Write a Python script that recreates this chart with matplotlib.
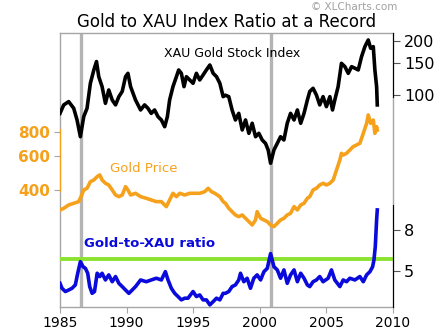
import matplotlib
matplotlib.use("Agg")
import matplotlib.pyplot as plt
from matplotlib.ticker import FixedLocator, NullLocator

plt.rcParams['font.family'] = ['DejaVu Sans']

# XAU Gold Stock Index
xau_years = [1985.00, 1985.28, 1985.65, 1986.03, 1986.28, 1986.53, 1986.78, 1987.03,
             1987.28, 1987.54, 1987.74, 1987.91, 1988.16, 1988.41, 1988.66, 1988.92,
             1989.17, 1989.42, 1989.67, 1989.92, 1990.10, 1990.30, 1990.67, 1991.05,
             1991.35, 1991.60, 1991.85, 1992.10, 1992.36, 1992.61, 1992.86, 1993.06,
             1993.23, 1993.48, 1993.74, 1993.91, 1994.11, 1994.31, 1994.49, 1994.74,
             1994.99, 1995.24, 1995.49, 1995.74, 1995.99, 1996.25, 1996.50, 1996.75,
             1997.00, 1997.25, 1997.42, 1997.67, 1997.92, 1998.17, 1998.42, 1998.68,
             1998.93, 1999.18, 1999.43, 1999.68, 1999.93, 2000.18, 2000.43, 2000.63,
             2000.81, 2001.06, 2001.31, 2001.56, 2001.81, 2002.06, 2002.31, 2002.57,
             2002.82, 2003.07, 2003.32, 2003.57, 2003.75, 2004.00, 2004.25, 2004.50,
             2004.75, 2005.00, 2005.26, 2005.46, 2005.63, 2005.88, 2006.13, 2006.39,
             2006.64, 2006.89, 2007.14, 2007.39, 2007.64, 2007.89, 2008.14, 2008.32,
             2008.52, 2008.64, 2008.77, 2008.82]
xau = [79.4, 88.4, 92.2, 84.7, 73.0, 59.0, 76.1, 84.7,
       116.4, 137.9, 153.5, 126.6, 111.5, 90.2, 106.9, 94.1,
       88.4, 98.2, 104.9, 126.6, 132.1, 111.5, 94.1, 82.9,
       88.4, 84.7, 79.4, 82.9, 76.1, 73.0, 67.0, 76.1,
       94.1, 111.5, 126.6, 137.9, 132.1, 111.5, 126.6, 121.4,
       116.4, 132.1, 121.4, 129.3, 137.9, 146.9, 132.1, 126.6,
       116.4, 98.2, 100.0, 98.2, 82.9, 73.0, 79.4, 64.3,
       73.0, 61.6, 70.0, 59.0, 61.6, 56.6, 54.2, 49.8,
       42.1, 49.8, 54.2, 59.0, 56.6, 70.0, 79.4, 73.0,
       82.9, 70.0, 79.4, 94.1, 104.9, 109.2, 100.3, 88.4,
       98.2, 86.5, 98.2, 82.9, 94.1, 111.5, 150.0, 143.8,
       132.1, 143.8, 141.0, 137.9, 163.4, 185.5, 201.9, 181.8,
       185.5, 137.9, 111.5, 88.4]

# Gold price, $/oz
gold_years = [1985.00, 1985.28, 1985.65, 1986.03, 1986.40, 1986.58, 1986.78, 1987.03,
              1987.28, 1987.54, 1987.79, 1987.99, 1988.16, 1988.41, 1988.66, 1988.92,
              1989.17, 1989.42, 1989.67, 1989.92, 1990.10, 1990.30, 1990.67, 1991.05,
              1991.48, 1991.85, 1992.23, 1992.61, 1992.98, 1993.23, 1993.48, 1993.74,
              1993.99, 1994.36, 1994.74, 1995.12, 1995.49, 1995.87, 1996.12, 1996.37,
              1996.62, 1997.00, 1997.25, 1997.42, 1997.67, 1997.92, 1998.17, 1998.42,
              1998.68, 1998.93, 1999.18, 1999.43, 1999.68, 1999.80, 2000.06, 2000.31,
              2000.56, 2000.81, 2001.06, 2001.31, 2001.56, 2001.81, 2002.06, 2002.31,
              2002.57, 2002.82, 2003.07, 2003.32, 2003.57, 2003.75, 2004.00, 2004.25,
              2004.50, 2004.75, 2005.00, 2005.26, 2005.51, 2005.76, 2006.01, 2006.13,
              2006.26, 2006.51, 2006.76, 2007.01, 2007.26, 2007.51, 2007.77, 2008.02,
              2008.14, 2008.32, 2008.52, 2008.64, 2008.77, 2008.82]
gold = [315.2, 321.5, 334.6, 341.4, 348.3, 369.8, 400.6, 408.7,
        442.6, 451.6, 470.0, 479.6, 451.6, 434.0, 425.3, 400.6,
        377.2, 369.8, 377.2, 416.9, 400.6, 377.2, 384.9, 369.8,
        362.5, 355.3, 348.3, 348.3, 328.0, 355.3, 384.9, 369.8,
        384.9, 377.2, 384.9, 384.9, 384.9, 392.6, 408.7, 392.6,
        384.9, 369.8, 348.3, 341.4, 321.5, 308.9, 296.8, 290.9,
        296.8, 285.2, 274.1, 263.3, 279.6, 308.9, 285.2, 279.6,
        274.1, 263.3, 258.1, 268.6, 279.6, 285.2, 296.8, 302.8,
        328.0, 315.2, 334.6, 341.4, 362.5, 369.8, 400.6, 408.7,
        425.3, 434.0, 425.3, 434.0, 451.6, 509.0, 574.0, 621.8,
        609.6, 621.8, 647.0, 673.6, 687.0, 701.0, 790.0, 891.0,
        985.0, 891.0, 927.0, 790.0, 856.0, 822.0]

# Gold-to-XAU ratio
ratio_years = [1985.00, 1985.15, 1985.40, 1985.65, 1985.90, 1986.15, 1986.33, 1986.53,
               1986.73, 1986.91, 1987.08, 1987.23, 1987.41, 1987.59, 1987.79, 1987.99,
               1988.16, 1988.41, 1988.66, 1988.92, 1989.17, 1989.42, 1989.67, 1989.92,
               1990.17, 1990.42, 1990.67, 1991.05, 1991.48, 1991.85, 1992.23, 1992.61,
               1992.91, 1993.11, 1993.36, 1993.61, 1993.86, 1994.11, 1994.36, 1994.61,
               1994.99, 1995.24, 1995.49, 1995.74, 1995.99, 1996.25, 1996.50, 1996.75,
               1997.00, 1997.25, 1997.42, 1997.67, 1997.92, 1998.17, 1998.42, 1998.55,
               1998.80, 1999.05, 1999.30, 1999.55, 1999.80, 2000.06, 2000.31, 2000.56,
               2000.81, 2001.06, 2001.31, 2001.56, 2001.81, 2002.06, 2002.31, 2002.57,
               2002.82, 2003.07, 2003.32, 2003.57, 2003.75, 2004.00, 2004.25, 2004.50,
               2004.75, 2005.13, 2005.38, 2005.63, 2006.01, 2006.26, 2006.51, 2006.76,
               2007.14, 2007.51, 2007.77, 2008.02, 2008.27, 2008.47, 2008.57, 2008.67,
               2008.72, 2008.77, 2008.82]
ratio = [4.34, 4.10, 3.95, 4.02, 4.10, 4.26, 4.87, 5.56,
         5.25, 5.15, 4.87, 4.18, 3.87, 3.95, 4.87, 4.69,
         4.87, 4.51, 4.78, 4.42, 4.69, 4.34, 4.18, 4.02,
         3.87, 4.02, 4.18, 4.51, 4.42, 4.51, 4.60, 4.51,
         4.96, 4.51, 4.10, 3.87, 3.73, 3.59, 3.66, 3.66,
         3.95, 3.73, 3.80, 3.59, 3.59, 3.39, 3.52, 3.66,
         3.59, 3.87, 3.87, 3.95, 4.18, 4.26, 4.51, 4.87,
         4.42, 4.60, 4.10, 4.60, 4.78, 4.51, 4.96, 5.15,
         6.10, 5.25, 5.06, 4.60, 5.06, 4.34, 4.78, 5.06,
         4.42, 4.87, 4.60, 4.26, 4.18, 4.42, 4.51, 4.69,
         4.42, 4.60, 5.06, 4.51, 4.18, 4.51, 4.42, 4.60,
         4.51, 4.69, 4.42, 4.78, 4.96, 5.25, 5.67, 6.61,
         7.70, 8.97, 10.06]

record_ratio = 5.75
turning_points = [1986.55, 2000.82]

xau_ticks = [100, 150, 200]
gold_ticks = [400, 600, 800]
ratio_ticks = [5, 8]
year_ticks = [1985, 1990, 1995, 2000, 2005, 2010]

ORANGE = '#F5A11C'
BLUE = '#0A0ADC'
GREEN = '#8BE32F'
FRAME = '#A6A6A6'

fig = plt.figure(figsize=(4.47, 3.30), dpi=100)
ax = fig.add_axes([60 / 447, 23.3 / 330, 333 / 447, 273.4 / 330])
ax.set_xlim(1985, 2010)
ax.set_ylim(0, 1)
ax.set_yticks([])
ax.set_xticks(year_ticks)
ax.tick_params(axis='x', length=4, width=0.8, color=FRAME, pad=3, labelsize=10)
for s in ax.spines.values():
    s.set_color(FRAME)
    s.set_linewidth(1.0)
for yr in turning_points:
    ax.axvline(yr, color='#B4B4B4', lw=2.4, zorder=1)

# gold price, left axis
ax_g = ax.twinx()
ax_g.set_yscale('log')
ax_g.set_ylim(98.8, 2622)
ax_g.yaxis.tick_left()
ax_g.yaxis.set_major_locator(FixedLocator(gold_ticks))
ax_g.yaxis.set_minor_locator(NullLocator())
ax_g.set_yticklabels([str(t) for t in gold_ticks])
ax_g.tick_params(axis='y', length=4, width=0.8, color=FRAME, pad=3, labelsize=11,
                 labelcolor=ORANGE)
for lab in ax_g.get_yticklabels():
    lab.set_fontweight('bold')
for k, s in ax_g.spines.items():
    s.set_visible(k == 'left')
ax_g.spines['left'].set_color(ORANGE)
ax_g.spines['left'].set_bounds(395, 830)
ax_g.plot(gold_years, gold, color=ORANGE, lw=2.6, zorder=3)

# XAU index, right axis (top)
ax_x = ax.twinx()
ax_x.set_yscale('log')
ax_x.set_ylim(6.79, 219.8)
ax_x.yaxis.set_major_locator(FixedLocator(xau_ticks))
ax_x.yaxis.set_minor_locator(NullLocator())
ax_x.set_yticklabels([str(t) for t in xau_ticks])
ax_x.tick_params(axis='y', length=5, width=0.8, color='#555555', pad=3, labelsize=11.5)
for k, s in ax_x.spines.items():
    s.set_visible(k == 'right')
ax_x.spines['right'].set_color('black')
ax_x.spines['right'].set_bounds(98, 219.8)
ax_x.plot(xau_years, xau, color='black', lw=2.6, zorder=3)

# ratio, right axis (bottom)
ax_r = ax.twinx()
ax_r.set_yscale('log')
ax_r.set_ylim(3.32, 76.1)
ax_r.yaxis.set_major_locator(FixedLocator(ratio_ticks))
ax_r.yaxis.set_minor_locator(NullLocator())
ax_r.set_yticklabels([str(t) for t in ratio_ticks])
ax_r.tick_params(axis='y', length=5, width=0.8, color='#555555', pad=3, labelsize=11.5)
for k, s in ax_r.spines.items():
    s.set_visible(k == 'right')
ax_r.spines['right'].set_color('black')
ax_r.spines['right'].set_bounds(3.32, 10.6)
ax_r.axhline(record_ratio, color=GREEN, lw=2.8, zorder=2)
ax_r.plot(ratio_years, ratio, color=BLUE, lw=2.6, zorder=3)

ax_x.text(1997.9, 169, 'XAU Gold Stock Index', ha='center', va='center', fontsize=9)
ax_g.text(1991.3, 521, 'Gold Price', ha='center', va='center', fontsize=9.5,
          color=ORANGE)
ax_r.text(1991.7, 6.85, 'Gold-to-XAU ratio', ha='center', va='center', fontsize=9.5,
          color=BLUE, fontweight='bold')

fig.text(227 / 447, 1 - 22 / 330, 'Gold to XAU Index Ratio at a Record', ha='center',
         va='center', fontsize=12)
fig.text(354 / 447, 1 - 6.5 / 330, '\u00a9 XLCharts.com', ha='center', va='center',
         fontsize=7.5, color='#A0A0A0')

fig.savefig('out.png', dpi=100)
